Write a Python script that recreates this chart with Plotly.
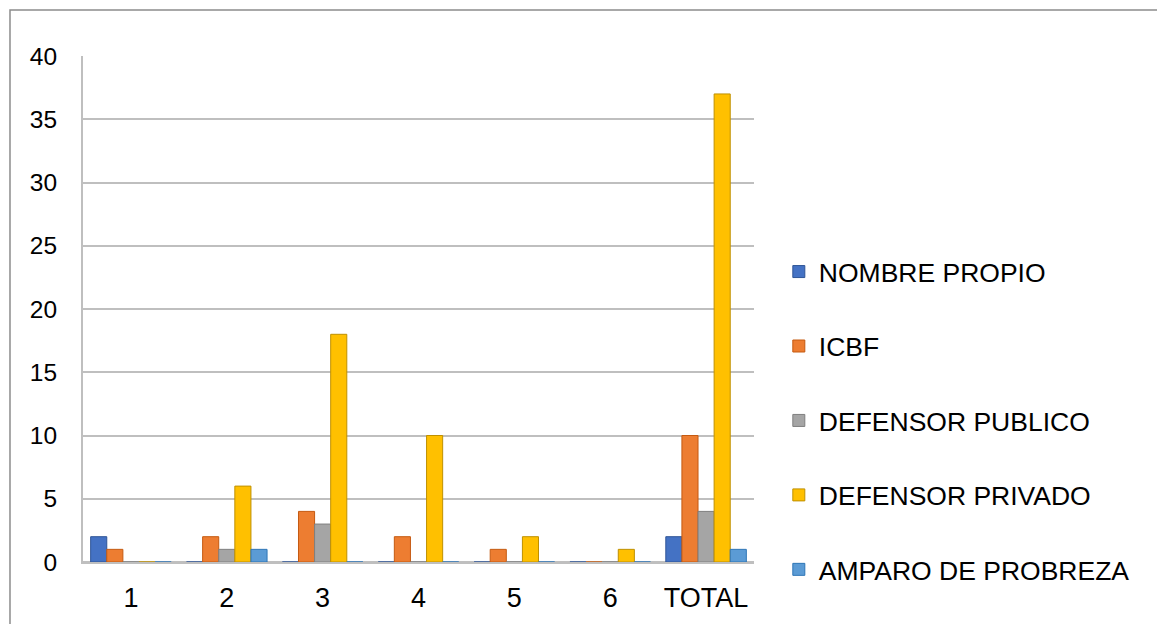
import plotly.graph_objects as go

categories = ["1", "2", "3", "4", "5", "6", "TOTAL"]
series_names = ["NOMBRE PROPIO", "ICBF", "DEFENSOR PUBLICO", "DEFENSOR PRIVADO", "AMPARO DE PROBREZA"]
nombre_propio = [2, 0, 0, 0, 0, 0, 2]
icbf = [1, 2, 4, 2, 1, 0, 10]
defensor_publico = [0, 1, 3, 0, 0, 0, 4]
defensor_privado = [0, 6, 18, 10, 2, 1, 37]
amparo = [0, 1, 0, 0, 0, 0, 1]
y_ticks = [0, 5, 10, 15, 20, 25, 30, 35, 40]

colors = ["#4472C4", "#ED7D31", "#A5A5A5", "#FFC000", "#5B9BD5"]
edge = ["#2F5597", "#C55A11", "#7F7F7F", "#BF9000", "#2E75B6"]
values = [nombre_propio, icbf, defensor_publico, defensor_privado, amparo]

fig = go.Figure()
for i, (name, vals) in enumerate(zip(series_names, values)):
    fig.add_trace(go.Bar(
        x=categories, y=vals, name=name,
        marker=dict(color=colors[i], line=dict(color=edge[i], width=1)),
        legendgroup=name,
    ))

fig.update_layout(
    width=1165, height=624,
    paper_bgcolor="white", plot_bgcolor="white",
    margin=dict(l=75, r=419, t=48, b=70),
    barmode="group", bargap=0.16, bargroupgap=0.0,
    font=dict(family="Liberation Sans, Arial, sans-serif", size=25, color="#000000"),
    showlegend=True,
    legend=dict(
        x=1.037, xanchor="left", xref="paper", y=0.279, yanchor="middle",
        font=dict(size=26.5, color="#000000"),
        tracegroupgap=37, traceorder="grouped", itemwidth=30,
        bgcolor="rgba(0,0,0,0)",
    ),
    xaxis=dict(
        type="category", showgrid=False, zeroline=False,
        showline=True, linecolor="#BFBFBF", linewidth=2,
        ticks="", ticklabelstandoff=11,
        tickfont=dict(size=27),
    ),
    yaxis=dict(
        range=[0, 40], tickvals=y_ticks, ticktext=[str(v) for v in y_ticks],
        showgrid=True, gridcolor="#BFBFBF", gridwidth=2,
        zeroline=True, zerolinecolor="#BFBFBF", zerolinewidth=2,
        showline=True, linecolor="#BFBFBF", linewidth=2,
        ticks="", ticklabelstandoff=19,
        tickfont=dict(size=24.5),
    ),
    shapes=[dict(type="rect", xref="paper", yref="paper",
                 x0=-0.1088, x1=1.65, y0=-0.25, y1=1.091,
                 line=dict(color="#8C8C8C", width=1.5), layer="below")],
)

fig.write_html("out.html")
